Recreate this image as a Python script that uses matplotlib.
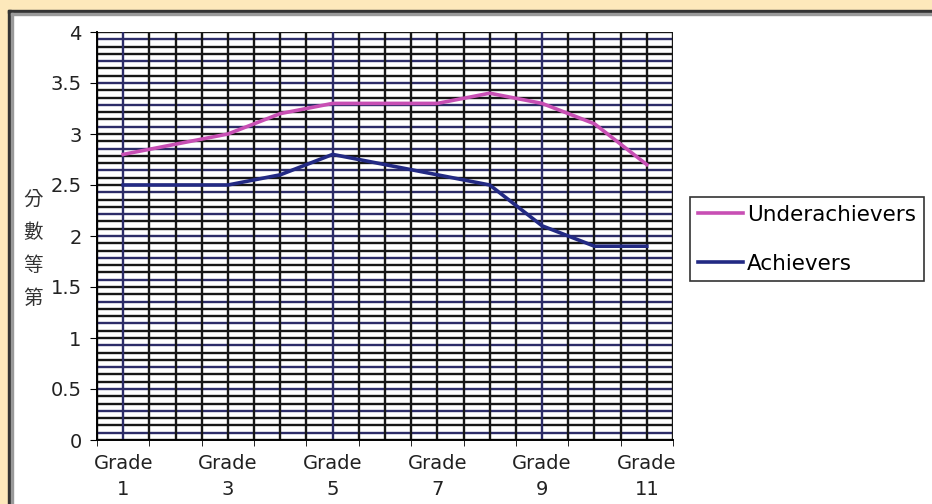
import numpy as np
import matplotlib
matplotlib.use('Agg')
import matplotlib.pyplot as plt
from matplotlib.patches import Rectangle

grades = ['Grade\n1', 'Grade\n2', 'Grade\n3', 'Grade\n4', 'Grade\n5', 'Grade\n6',
          'Grade\n7', 'Grade\n8', 'Grade\n9', 'Grade\n10', 'Grade\n11']
underachievers = [2.8, 2.9, 3.0, 3.2, 3.3, 3.3, 3.3, 3.4, 3.3, 3.1, 2.7]
achievers = [2.5, 2.5, 2.5, 2.6, 2.8, 2.7, 2.6, 2.5, 2.1, 1.9, 1.9]
y_ticks = [0, 0.5, 1, 1.5, 2, 2.5, 3, 3.5, 4]
y_tick_labels = ['0', '0.5', '1', '1.5', '2', '2.5', '3', '3.5', '4']

W, H = 932, 504
fig = plt.figure(figsize=(W / 100, H / 100), dpi=100)
fig.patch.set_facecolor('white')

# beige frame and dark border (top and left only, rest is cropped)
beige = '#fde8bb'
def px_rect(x0, y0, w, h, color):
    fig.patches.append(Rectangle((x0 / W, 1 - (y0 + h) / H), w / W, h / H,
                                 transform=fig.transFigure, color=color, zorder=-10))
px_rect(0, 0, W, 10, beige)
px_rect(0, 0, 8, H, beige)
px_rect(8, 10, W, 3, '#333333')
px_rect(8, 10, 3, H, '#333333')
px_rect(11, 13, W, 2, '#9a9a9a')
px_rect(11, 13, 2, H, '#9a9a9a')

ax = fig.add_axes([97 / W, 1 - 440 / H, (673 - 97) / W, (440 - 32) / H])
x = np.arange(len(grades))

# dense grid
grid_dark = '#161616'
grid_navy = '#2c2c68'
ys = np.linspace(0, 4, 57)
for i, yv in enumerate(ys):
    ax.axhline(yv, color=grid_navy if i % 3 == 1 else grid_dark, lw=1.7, zorder=1)
xs = np.arange(-0.5, len(grades), 0.5)
for i, xv in enumerate(xs):
    ax.axvline(xv, color=grid_navy if i % 8 == 1 else grid_dark, lw=1.7, zorder=1)

ax.plot(x, underachievers, color='#c84fb4', lw=2.6, label='Underachievers', zorder=3)
ax.plot(x, achievers, color='#232a84', lw=2.6, label='Achievers', zorder=3)

ax.set_xlim(-0.5, len(grades) - 0.5)
ax.set_ylim(0, 4)
ax.set_yticks(y_ticks)
ax.set_yticklabels(y_tick_labels, fontsize=14, color='#222222')
ax.set_xticks(x[::2])
ax.set_xticklabels(grades[::2], fontsize=14, linespacing=1.45, color='#222222')
ax.set_xticks(np.arange(-0.5, len(grades), 1), minor=True)
ax.tick_params(axis='x', which='major', length=0, pad=10)
ax.tick_params(axis='x', which='minor', length=4, direction='out')
ax.tick_params(axis='y', length=5, direction='out', pad=6)
for s in ['top', 'right']:
    ax.spines[s].set_visible(False)
for s in ['left', 'bottom']:
    ax.spines[s].set_linewidth(1.4)
    ax.spines[s].set_zorder(4)

fig.text(33 / W, 1 - 249 / H, '分\n數\n等\n第', family=['Noto Sans CJK TC', 'DejaVu Sans'],
         fontsize=14, ha='center', va='center', linespacing=1.75, color='#333333')

leg = fig.legend(loc='upper left', bbox_to_anchor=(690 / W, 1 - 197 / H),
                 fontsize=15.5, frameon=True, fancybox=False, handlelength=2.1,
                 handletextpad=0.2, labelspacing=1.35, borderpad=0.35, borderaxespad=0)
leg.get_frame().set_edgecolor('black')
leg.get_frame().set_linewidth(1.2)

fig.savefig('out.png', dpi=100)
